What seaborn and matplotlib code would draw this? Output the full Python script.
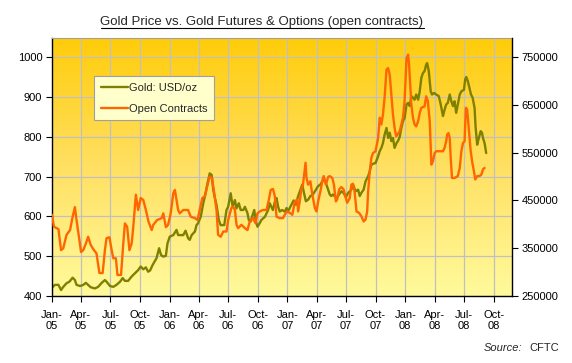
import numpy as np
import pandas as pd
import matplotlib
matplotlib.use('Agg')
import matplotlib.pyplot as plt
from matplotlib.colors import LinearSegmentedColormap
from matplotlib.lines import Line2D
import seaborn as sns

# days since 1 Jan 2005
gold_days = [0, 9, 20, 28, 35, 45, 54, 64, 71, 76, 87, 97, 105, 112, 120, 133, 143, 154, 164, 169,
             180, 190, 200, 211, 219, 226, 236, 247, 257, 267, 275, 283, 291, 298, 304, 312, 324, 332,
             338, 345, 353, 358, 365, 376, 386, 391, 407, 414, 422, 427, 433, 443, 448, 453, 461, 469,
             476, 482, 489, 495, 500, 505, 510, 517, 523, 534, 541, 546, 551, 554, 560, 567, 572, 579,
             585, 593, 598, 606, 610, 616, 620, 627, 631, 637, 644, 649, 660, 670, 675, 680, 685, 691,
             696, 701, 706, 713, 722, 727, 732, 737, 745, 749, 756, 763, 770, 776, 780, 787, 794, 801,
             809, 818, 825, 832, 838, 842, 849, 856, 861, 866, 871, 882, 890, 897, 904, 911, 918, 928,
             933, 941, 949, 954, 959, 966, 972, 980, 985, 990, 995, 1003, 1011, 1016, 1021, 1026, 1031,
             1037, 1042, 1047, 1052, 1057, 1062, 1068, 1073, 1078, 1083, 1088, 1093, 1099, 1104, 1109,
             1114, 1119, 1124, 1129, 1135, 1140, 1145, 1150, 1155, 1160, 1163, 1168, 1171, 1174, 1178,
             1184, 1191, 1199, 1205, 1212, 1217, 1222, 1227, 1233, 1238, 1243, 1248, 1253, 1258, 1264,
             1269, 1277, 1281, 1284, 1289, 1294, 1299, 1304, 1310, 1313, 1318, 1322, 1329, 1333, 1336,
             1341, 1346]
gold_usd = [421, 428, 428, 415, 423, 432, 436, 446, 440, 428, 425, 428, 433, 428, 422, 419, 423, 433, 440, 436,
            425, 423, 428, 436, 445, 438, 438, 449, 457, 465, 474, 467, 472, 461, 464, 478, 495, 520,
            503, 499, 501, 532, 549, 553, 566, 553, 553, 564, 545, 541, 553, 562, 578, 583, 599, 633,
            658, 683, 708, 704, 666, 646, 629, 591, 578, 578, 616, 624, 646, 658, 624, 641, 620, 633,
            616, 616, 624, 608, 591, 587, 599, 616, 591, 574, 583, 591, 599, 616, 633, 624, 616, 637,
            646, 624, 612, 616, 612, 621, 613, 621, 634, 640, 629, 651, 667, 680, 663, 638, 642, 651,
            655, 667, 676, 680, 688, 697, 684, 667, 655, 651, 655, 646, 655, 663, 659, 648, 659, 667,
            680, 663, 667, 651, 659, 667, 688, 701, 713, 730, 732, 734, 751, 764, 772, 784, 805,
            822, 797, 810, 789, 797, 772, 784, 790, 800, 822, 839, 847, 881, 885, 877,
            902, 898, 893, 906, 893, 914, 948, 960, 965, 981, 985, 965, 940, 914, 906,
            910, 906, 902, 881, 852, 868, 881, 885, 906, 889, 877, 889, 860, 881, 906,
            914, 918, 944, 950, 940, 923, 906, 898, 872, 826, 780, 793, 814, 810, 797,
            784, 759]

oc_days = [0, 6, 20, 28, 35, 45, 56, 64, 71, 76, 85, 90, 97, 105, 112, 120, 128, 138, 147, 157, 164,
           169, 178, 185, 190, 198, 203, 214, 221, 226, 233, 240, 247, 252, 260, 267, 275, 283, 291,
           299, 309, 314, 326, 340, 345, 353, 360, 368, 376, 381, 391, 396, 407, 422, 430, 443, 451,
           458, 466, 474, 482, 489, 496, 503, 510, 515, 523, 531, 541, 546, 556, 562, 567, 572, 577,
           587, 598, 606, 613, 623, 631, 637, 644, 654, 665, 672, 678, 685, 691, 696, 706, 716, 724,
           729, 737, 745, 753, 760, 763, 768, 773, 778, 786, 789, 794, 801, 807, 815, 820, 825, 832,
           838, 842, 849, 856, 861, 869, 874, 880, 884, 890, 897, 904, 911, 915, 923, 928, 933, 938,
           944, 952, 959, 966, 972, 977, 980, 985, 990, 995, 1003, 1011, 1016, 1021, 1026, 1031, 1037,
           1042, 1047, 1052, 1057, 1062, 1067, 1078, 1083, 1088, 1093, 1099, 1104, 1107, 1110, 1114,
           1119, 1124, 1129, 1135, 1140, 1145, 1155, 1160, 1165, 1171, 1176, 1181, 1186, 1191, 1202,
           1212, 1217, 1222, 1225, 1229, 1233, 1236, 1240, 1248, 1258, 1264, 1269, 1274, 1279, 1283,
           1287, 1291, 1298, 1303, 1308, 1312, 1318, 1325, 1331, 1336, 1341]
oc_contracts = [420000, 395000, 390000, 346000, 350000, 378000, 388000, 416000, 436000, 409000, 367000,
                342000, 346000, 360000, 374000, 357000, 348000, 339000, 298000, 298000, 346000,
                371000, 373000, 346000, 329000, 329000, 294000, 294000, 360000, 402000, 395000,
                346000, 360000, 395000, 462000, 430000, 455000, 451000, 430000,
                406000, 388000, 399000, 409000, 413000, 423000, 394000, 399000, 423000, 465000,
                472000, 430000, 423000, 430000, 430000, 416000, 413000, 409000,
                430000, 455000, 459000, 482000, 500000, 497000, 465000, 430000, 378000, 374000,
                385000, 385000, 409000, 434000, 437000, 430000, 399000, 392000,
                399000, 392000, 388000, 406000, 413000, 402000, 423000, 427000, 430000, 430000,
                451000, 472000, 474000, 458000, 416000, 413000, 413000, 423000,
                427000, 424000, 420000, 448000, 452000, 427000, 448000, 473000, 483000, 529000,
                497000, 483000, 490000, 462000, 434000, 427000, 448000, 469000,
                490000, 501000, 483000, 499000, 501000, 497000, 483000, 448000, 452000, 473000,
                478000, 473000, 455000, 445000, 455000, 483000, 485000, 469000,
                427000, 424000, 417000, 406000, 410000, 427000, 469000, 511000, 539000, 549000,
                553000, 581000, 623000, 609000, 630000, 665000, 724000,
                727000, 713000, 672000, 630000, 602000, 584000, 595000, 609000, 623000, 658000,
                748000, 755000, 734000, 700000, 651000,
                623000, 609000, 605000, 616000, 633000, 644000, 647000, 668000, 658000, 616000,
                525000, 532000, 549000, 553000, 553000,
                553000, 560000, 574000, 588000, 591000, 581000, 539000, 497000, 497000, 501000,
                518000, 553000, 570000, 574000, 644000,
                640000, 609000, 553000, 529000, 511000, 494000, 501000, 501000, 504000, 515000, 518000]

tick_dates = pd.date_range('2005-01-01', '2008-10-01', freq='QS')
tick_labels = [d.strftime('%b-\n%y') for d in tick_dates]
left_ticks = [400, 500, 600, 700, 800, 900, 1000]
right_ticks = [250000, 350000, 450000, 550000, 650000, 750000]

start = pd.Timestamp('2005-01-01')
gold = pd.DataFrame({'date': start + pd.to_timedelta(gold_days, unit='D'), 'price': gold_usd})
oc = pd.DataFrame({'date': start + pd.to_timedelta(oc_days, unit='D'), 'contracts': oc_contracts})

sns.set_style('white')
plt.rcParams['font.family'] = ['Liberation Sans', 'DejaVu Sans']
plt.rcParams['font.size'] = 8

fig = plt.figure(figsize=(5.72, 3.63), dpi=100)
pos = [52 / 572, 1 - 296 / 363, 460 / 572, 258 / 363]

# gradient background behind the plot
bg = fig.add_axes(pos, zorder=-1)
cmap = LinearSegmentedColormap.from_list('bg', ['#FFFA9C', '#FFE063', '#FFCC0A'])
bg.imshow(np.linspace(0, 1, 256).reshape(-1, 1), cmap=cmap, aspect='auto',
          origin='lower', extent=[0, 1, 0, 1])
bg.set_axis_off()

ax = fig.add_axes(pos)
ax.patch.set_visible(False)
ax2 = ax.twinx()

sns.lineplot(data=gold, x='date', y='price', ax=ax, color='#808000', lw=1.7, legend=False)
sns.lineplot(data=oc, x='date', y='contracts', ax=ax2, color='#FF6600', lw=1.7, legend=False)

ax.set_xlim(start, pd.Timestamp('2008-11-27'))
ax.set_ylim(400, 1048)
ax2.set_ylim(250000, 250000 + 648 * 500000 / 600)
ax.set_xticks(tick_dates)
ax.set_xticklabels(tick_labels)
ax.set_yticks(left_ticks)
ax2.set_yticks(right_ticks)
ax2.set_yticklabels([str(v) for v in right_ticks])
ax.set_xlabel('')
ax.set_ylabel('')
ax2.set_ylabel('')

ax.grid(True, color='#C0C0C0', lw=0.9)
ax.set_axisbelow(True)
ax.tick_params(axis='both', direction='out', length=4, width=0.8, color='black',
               labelsize=8, labelcolor='black', bottom=True, left=True, pad=3)
ax.tick_params(axis='x', pad=6)
ax2.tick_params(axis='y', direction='out', length=4, width=0.8, color='black',
                labelsize=8, labelcolor='black', right=True, pad=3)

for s in ['left', 'bottom']:
    ax.spines[s].set_color('black')
    ax.spines[s].set_linewidth(1.0)
ax.spines['top'].set_color('#A0A0A0')
ax.spines['right'].set_visible(False)
for s in ['left', 'bottom', 'top']:
    ax2.spines[s].set_visible(False)
ax2.spines['right'].set_color('black')
ax2.spines['right'].set_linewidth(1.0)

leg = ax2.legend([ax.lines[0], ax2.lines[0]], ['Gold: USD/oz', 'Open Contracts'],
                 loc='upper left', bbox_to_anchor=(0.092, 0.853), borderaxespad=0,
                 frameon=True, fancybox=False, facecolor='#FFFFCC', edgecolor='#A0A0A0',
                 framealpha=1, handlelength=2.4, handletextpad=0.15, labelspacing=1.0,
                 borderpad=0.6, fontsize=8)
leg.get_frame().set_linewidth(0.8)

title = fig.text(262 / 572, 1 - 25.5 / 363, 'Gold Price vs. Gold Futures & Options (open contracts)',
                 ha='center', va='baseline', fontsize=9.5)
fig.canvas.draw()
bb = title.get_window_extent().transformed(fig.transFigure.inverted())
fig.add_artist(Line2D([bb.x0, bb.x1], [1 - 27.8 / 363] * 2, color='black', lw=0.8))

fig.text(522 / 572, 1 - 348 / 363, 'Source:', ha='right', va='center', style='italic', fontsize=8)
fig.text(529 / 572, 1 - 348 / 363, 'CFTC', ha='left', va='center', fontsize=8)

fig.savefig('out.png', dpi=100)
